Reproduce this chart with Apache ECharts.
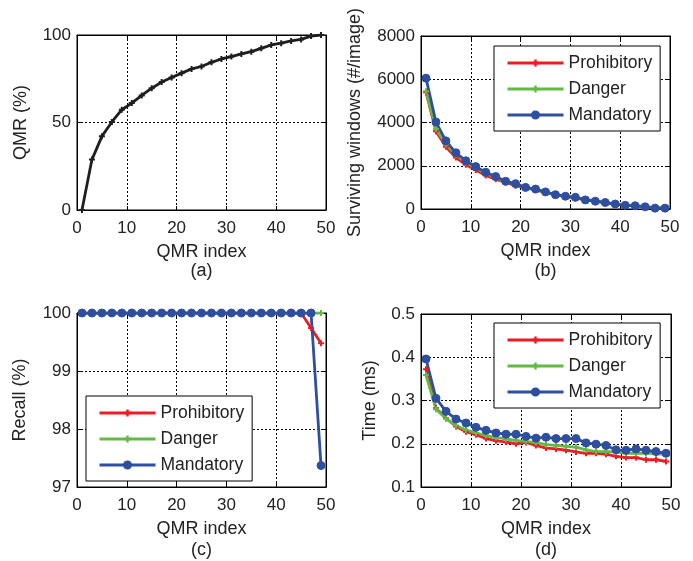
<!DOCTYPE html>
<html><head><meta charset="utf-8">
<script src="https://cdn.jsdelivr.net/npm/echarts@6/dist/echarts.min.js"></script>
<style>html,body{margin:0;padding:0;background:#fff}#c{width:693px;height:561px}</style>
</head><body><div id="c"></div>
<script>
const qmrIndex = [1,3,5,7,9,11,13,15,17,19,21,23,25,27,29,31,33,35,37,39,41,43,45,47,49];
const qmrPercent = [0,28.8,42.1,50.3,57.3,61.1,65.5,69.6,73.1,75.7,78.2,80.6,82.0,84.4,86.3,87.7,89.2,90.5,92.4,94.3,95.3,96.6,97.5,99.4,100];

const windowsProhibitory = [5400,3600,2880,2380,2050,1800,1550,1380,1230,1080,980,880,760,660,570,500,420,350,290,230,180,140,100,60,40];
const windowsDanger = [5450,3700,3000,2500,2150,1900,1650,1450,1280,1150,1000,900,780,680,590,530,450,370,300,240,190,150,100,70,40];
const windowsMandatory = [6050,4020,3150,2600,2230,1960,1700,1500,1280,1170,1000,920,790,660,590,540,420,360,300,230,170,150,100,40,40];

const recallProhibitory = [100,100,100,100,100,100,100,100,100,100,100,100,100,100,100,100,100,100,100,100,100,100,100,99.74,99.48];
const recallDanger = [100,100,100,100,100,100,100,100,100,100,100,100,100,100,100,100,100,100,100,100,100,100,100,100,100];
const recallMandatory = [100,100,100,100,100,100,100,100,100,100,100,100,100,100,100,100,100,100,100,100,100,100,100,100,97.37];

const timeProhibitory = [0.372,0.282,0.259,0.240,0.228,0.221,0.212,0.207,0.204,0.200,0.203,0.196,0.190,0.188,0.185,0.181,0.178,0.178,0.176,0.171,0.168,0.168,0.163,0.163,0.159];
const timeDanger = [0.359,0.280,0.258,0.242,0.232,0.225,0.219,0.215,0.211,0.208,0.205,0.203,0.198,0.196,0.194,0.192,0.186,0.182,0.182,0.181,0.178,0.178,0.178,0.177,0.175];
const timeMandatory = [0.396,0.305,0.275,0.257,0.248,0.238,0.231,0.225,0.222,0.222,0.217,0.213,0.215,0.212,0.212,0.212,0.202,0.199,0.196,0.186,0.185,0.188,0.185,0.182,0.178];

const seriesNames = ['Prohibitory','Danger','Mandatory'];
const captions = ['(a)','(b)','(c)','(d)'];
const xName = 'QMR index';
const yNames = ['QMR (%)','Surviving windows (#/image)','Recall (%)','Time (ms)'];
const yRanges = [[0,100,50],[0,8000,2000],[97,100,1],[0.1,0.5,0.1]];
const yDecimals = [0,0,0,1];

const FONT = "'Liberation Sans', Arial, sans-serif";
const RED = '#ec1c24', GREEN = '#62b946', BLUE = '#2e4fa0';
const PLUS = 'path://M2,0H4V2H6V4H4V6H2V4H0V2H2Z';

const grids = [
  {left:77, top:35, width:249, height:175},
  {left:421, top:36, width:249, height:173},
  {left:77, top:313, width:249, height:174},
  {left:421, top:314, width:250, height:173}
];
const yGaps = [47, 57, 48, 42];

const gridOpts = grids.map(g => Object.assign({show:true, borderColor:'#000', borderWidth:1, backgroundColor:'#fff', containLabel:false}, g));
const xAxes = [], yAxes = [];
grids.forEach((g,i) => {
  xAxes.push({type:'value', gridIndex:i, min:0, max:50, interval:10, position:'bottom',
    name:xName, nameLocation:'middle', nameGap:33,
    nameTextStyle:{fontFamily:FONT, fontSize:18, color:'#222'},
    axisLine:{show:true, onZero:false, lineStyle:{color:'#000', width:1}},
    axisTick:{show:true, inside:true, length:4, lineStyle:{color:'#000'}},
    axisLabel:{fontFamily:FONT, fontSize:17, color:'#222', margin:10},
    splitLine:{show:true, lineStyle:{color:'#000', type:[2,2], width:1}}});
  xAxes.push({type:'value', gridIndex:i, min:0, max:50, interval:10, position:'top',
    axisLine:{show:true, onZero:false, lineStyle:{color:'#000'}},
    axisTick:{show:true, inside:true, length:4, lineStyle:{color:'#000'}},
    axisLabel:{show:false}, splitLine:{show:false}});
  const r = yRanges[i];
  const dec = yDecimals[i];
  yAxes.push({type:'value', gridIndex:i, min:r[0], max:r[1], interval:r[2], position:'left',
    name:yNames[i], nameLocation:'middle', nameGap:yGaps[i],
    nameTextStyle:{fontFamily:FONT, fontSize:18, color:'#222'},
    axisLine:{show:true, onZero:false, lineStyle:{color:'#000', width:1}},
    axisTick:{show:true, inside:true, length:4, lineStyle:{color:'#000'}},
    axisLabel:{fontFamily:FONT, fontSize:17, color:'#222', margin:6, formatter:v => Number(v).toFixed(dec)},
    splitLine:{show:true, lineStyle:{color:'#000', type:[2,2], width:1}}});
  yAxes.push({type:'value', gridIndex:i, min:r[0], max:r[1], interval:r[2], position:'right',
    axisLine:{show:true, onZero:false, lineStyle:{color:'#000'}},
    axisTick:{show:true, inside:true, length:4, lineStyle:{color:'#000'}},
    axisLabel:{show:false}, splitLine:{show:false}});
});

function pairs(ys){ return qmrIndex.map((x,k)=>[x, ys[k]]); }
function mk(name, ys, gi, color, sym, size){
  return {type:'line', name:name, xAxisIndex:gi*2, yAxisIndex:gi*2, data:pairs(ys),
    symbol:sym, symbolSize:size, showAllSymbol:true, animation:false,
    lineStyle:{color:color, width:2.8}, itemStyle:{color:color, borderColor:color, borderWidth:sym==='circle'?1:0}};
}
const series = [
  mk('QMR', qmrPercent, 0, '#1e1e1e', PLUS, 6),
  mk('Prohibitory', windowsProhibitory, 1, RED, PLUS, 6),
  mk('Danger', windowsDanger, 1, GREEN, PLUS, 6),
  mk('Mandatory', windowsMandatory, 1, BLUE, 'circle', 8),
  mk('Prohibitory', recallProhibitory, 2, RED, PLUS, 6),
  mk('Danger', recallDanger, 2, GREEN, PLUS, 6),
  mk('Mandatory', recallMandatory, 2, BLUE, 'circle', 8),
  mk('Prohibitory', timeProhibitory, 3, RED, PLUS, 6),
  mk('Danger', timeDanger, 3, GREEN, PLUS, 6),
  mk('Mandatory', timeMandatory, 3, BLUE, 'circle', 8)
];

function legend(left, top){
  return {data:seriesNames, left:left, top:top, orient:'vertical', selectedMode:false,
    backgroundColor:'#fff', borderColor:'#000', borderWidth:1, borderRadius:0,
    padding:[8,8,7,12], itemGap:8, itemWidth:56, itemHeight:9,
    lineStyle:{width:3},
    textStyle:{fontFamily:FONT, fontSize:17.5, color:'#222', lineHeight:18}};
}

const graphic = captions.map((t,i)=>({type:'text',
  style:{text:t, x:grids[i].left + grids[i].width/2, y:(i<2?271:550), textAlign:'center', textVerticalAlign:'middle',
  font:'18px ' + FONT, fill:'#222'}}));

const chart = echarts.init(document.getElementById('c'), null, {renderer:'canvas'});
chart.setOption({
  animation:false,
  grid:gridOpts,
  xAxis:xAxes,
  yAxis:yAxes,
  legend:[legend(494,46), legend(86,396), legend(494,323)],
  series:series,
  graphic:graphic
});
</script></body></html>
